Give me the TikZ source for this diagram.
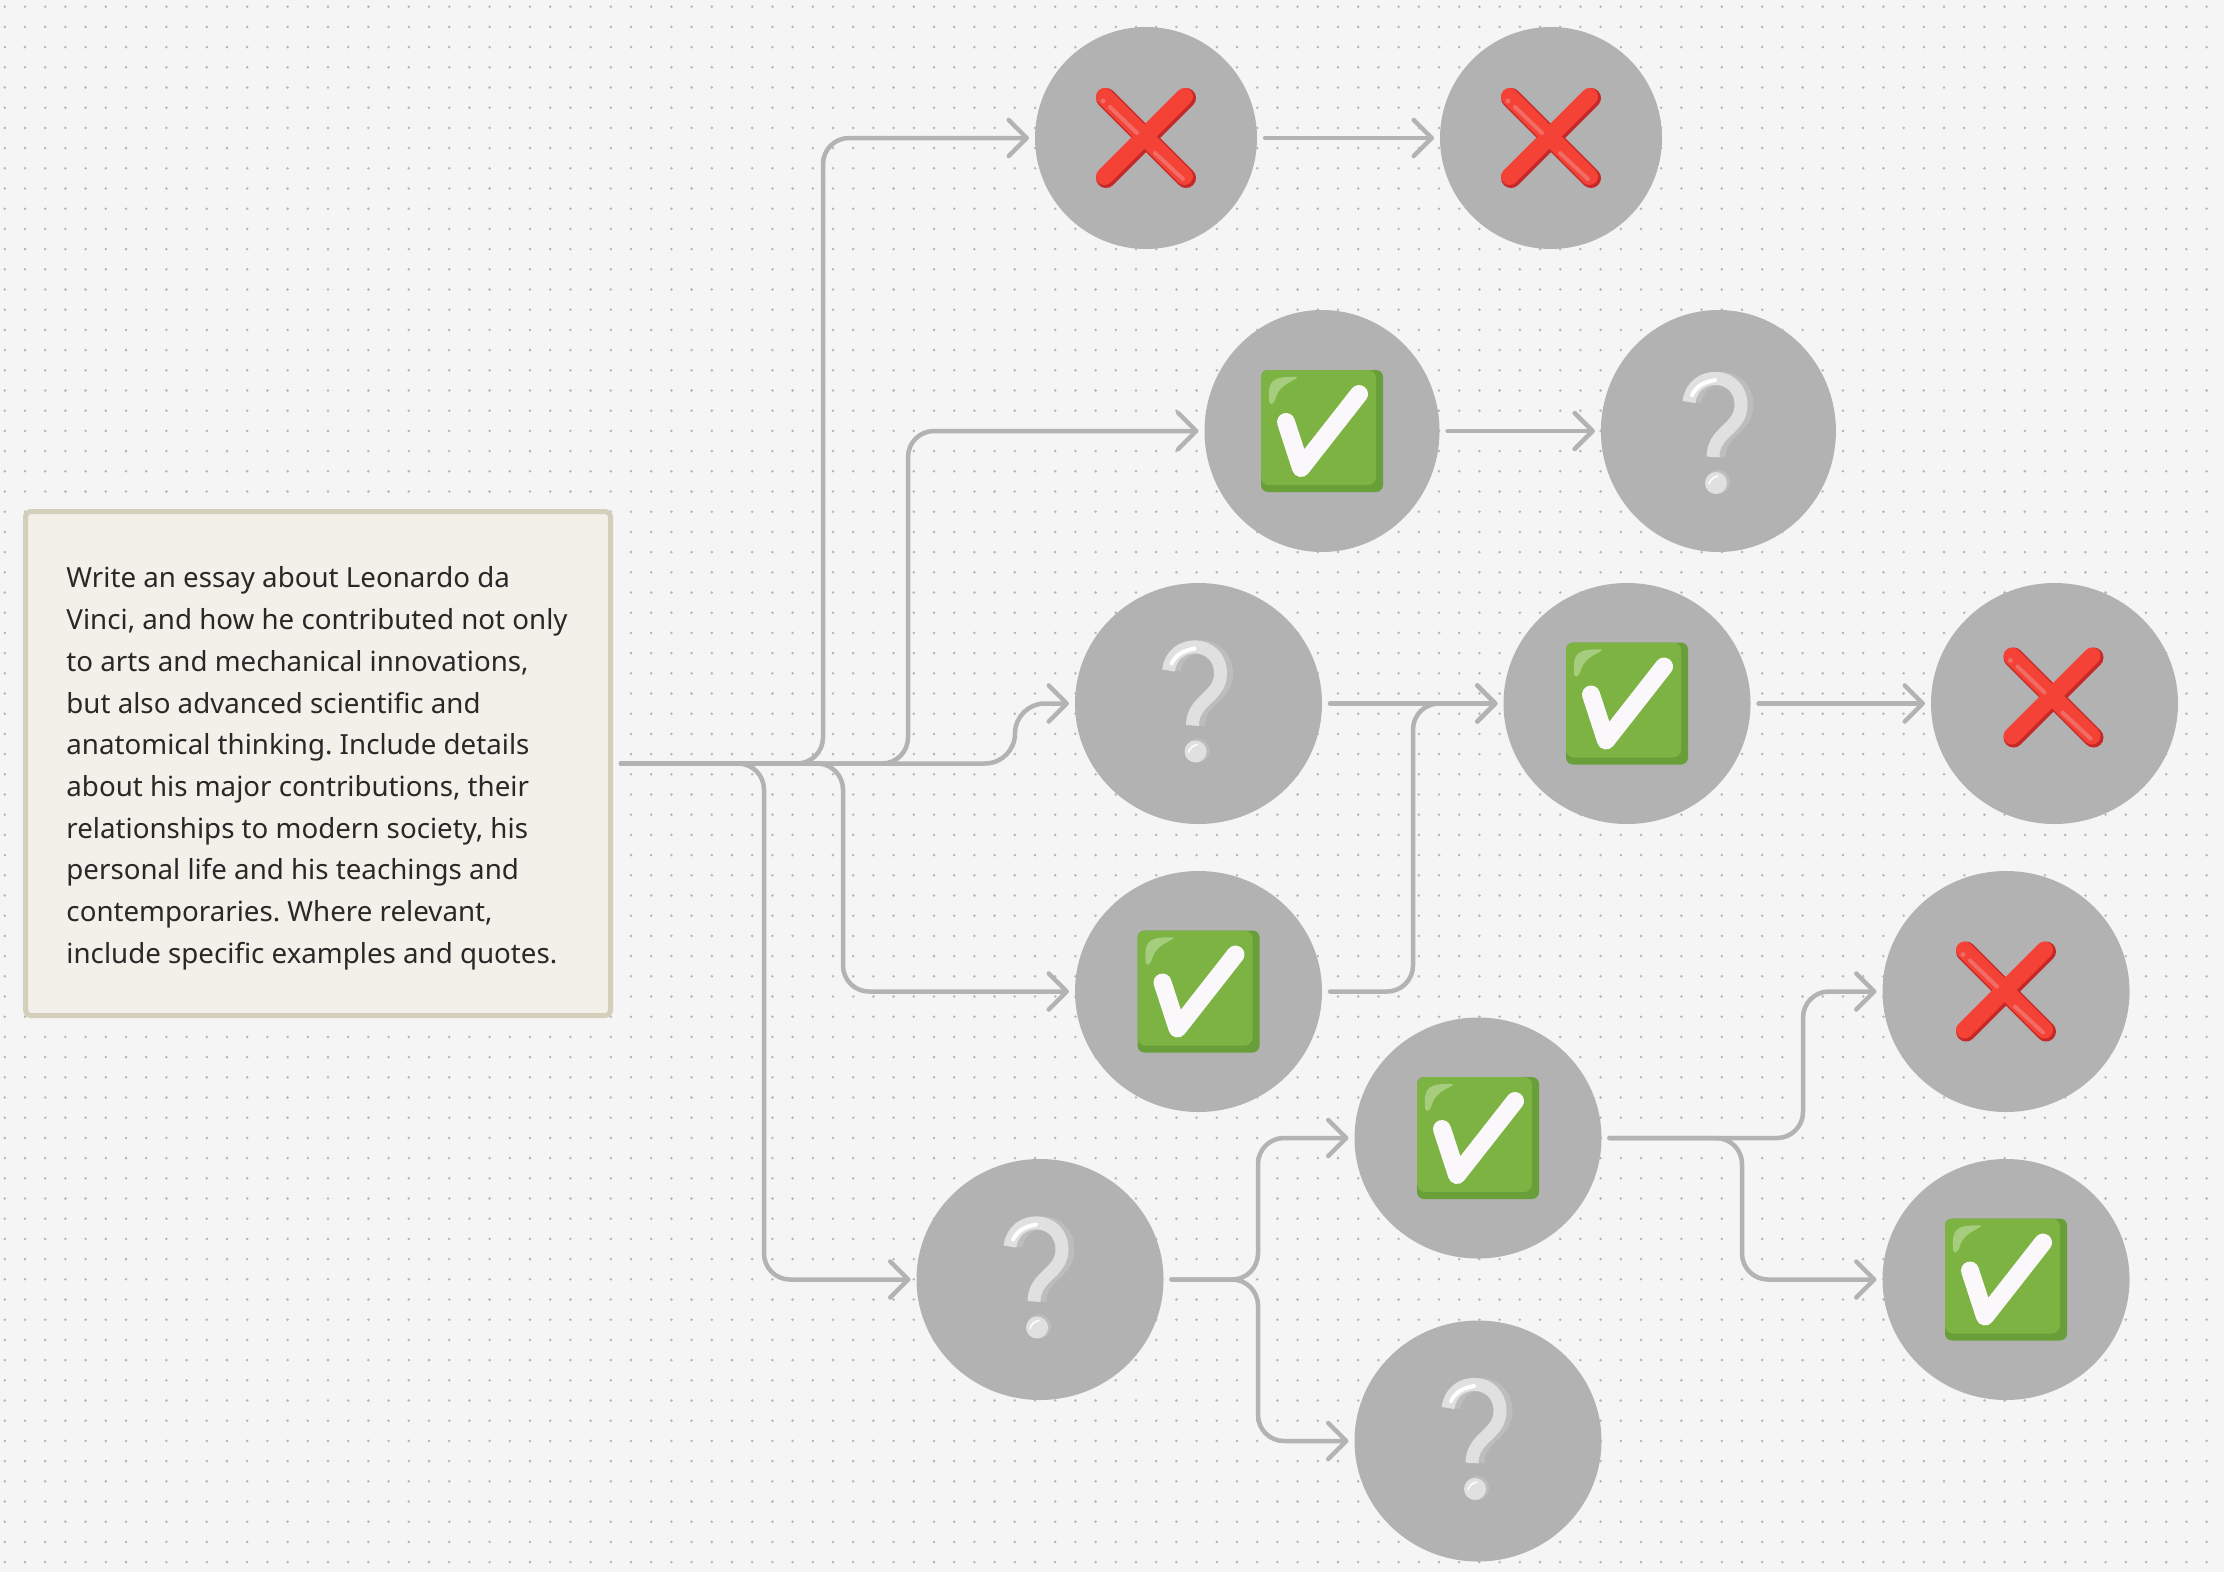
\documentclass[tikz,border=0pt]{standalone}
\usepackage{fontspec}
\setmainfont{Noto Sans}
\usepackage{xcolor}
\usetikzlibrary{arrows.meta,shapes.geometric}
\definecolor{pagebg}{RGB}{245,245,245}
\definecolor{griddot}{RGB}{182,182,182}
\definecolor{stepgray}{RGB}{178,178,178}
\definecolor{linkgray}{RGB}{179,179,179}
\definecolor{promptfill}{RGB}{242,240,232}
\definecolor{promptedge}{RGB}{211,207,186}
\definecolor{promptink}{RGB}{40,40,40}
\definecolor{crossred}{RGB}{244,67,54}
\definecolor{crossdark}{RGB}{198,40,40}
\definecolor{crosslight}{RGB}{240,108,100}
\definecolor{boxgreen}{RGB}{124,179,66}
\definecolor{boxdark}{RGB}{104,159,56}
\definecolor{boxlight}{RGB}{165,205,125}
\definecolor{tickwhite}{RGB}{250,248,250}
\definecolor{askpale}{RGB}{224,224,224}
\definecolor{askshade}{RGB}{189,189,189}
\tikzset{
  dotrow/.style={griddot, line width=2.8pt, line cap=round, dash pattern=on 0pt off 20.2pt},
  stepcircle/.style={ellipse, fill=stepgray, inner sep=0pt, outer sep=6pt, minimum width=247pt, minimum height=241pt},
  prompt/.style={rectangle, rounded corners=5pt, draw=promptedge, fill=promptfill, line width=5pt,
    minimum width=585pt, minimum height=504pt, inner sep=0pt, outer sep=8.5pt,
    text=promptink, font=\fontsize{27.7}{41.7}\selectfont},
  link/.style={line width=4.5pt, color=linkgray, line cap=round, rounded corners=26pt, shorten <=2pt,
    -{Straight Barb[length=18pt,width=36pt,round]}},
  crossicon/.pic={
    \draw[crossdark, line width=20pt, line cap=round] (-40,-40) -- (40,40) (40,-40) -- (-40,40);
    \draw[crossred, line width=17pt, line cap=round] (-41.5,-41.5) -- (38.5,38.5) (38.5,-41.5) -- (-41.5,38.5);
    \draw[crosslight, line width=4pt, line cap=round] (-36,-31) -- (-9,-5) (9,15) -- (37,41);
    \fill[crosslight] (-43,-37) circle (2.5pt);
  },
  checkicon/.pic={
    \fill[boxdark, rounded corners=7pt] (-61,-61) rectangle (61,61);
    \fill[boxgreen, rounded corners=8pt] (-61,-61) rectangle (54,54);
    \fill[boxlight] (-25,-54) .. controls (-24,-51) and (-42,-48) .. (-46,-34) .. controls (-48,-26) and (-53,-24) .. (-53,-32) .. controls (-54,-50) and (-50,-55) .. (-25,-54) -- cycle;
    \draw[tickwhite, line width=18pt, line cap=round, line join=round] (-36,-9) -- (-21,37) -- (37,-37);
  },
  askicon/.pic={
    \draw[askshade, line width=13pt] (-22,-29) .. controls (-18,-62) and (30,-60) .. (30,-26) .. controls (30,-2) and (2,0) .. (2,26);
    \fill[askshade] (1,51) circle (12pt);
    \draw[askpale, line width=13pt] (-28,-29) .. controls (-24,-62) and (24,-60) .. (24,-26) .. controls (24,-2) and (-4,0) .. (-4,26);
    \fill[askpale] (-1,52) circle (11pt);
    \draw[white, line width=4pt, line cap=round] (-25,-36) .. controls (-20,-46) and (-12,-49) .. (-2,-51);
    \draw[white, line width=1.5pt, line cap=round] (-8,53) .. controls (-7,49) and (-4,46) .. (1,45);
  },
}

\begin{document}
\begin{tikzpicture}[x=1pt, y=-1pt]
% Page and dot grid
\useasboundingbox (0,0) rectangle (2224,1572);
\fill[pagebg] (0,0) rectangle (2224,1572);
\foreach \row [evaluate=\row as \doty using 6.7+20.2*\row] in {0,...,77} {
  \draw[dotrow] (4.8,\doty) -- (2224,\doty);
}

% Prompt
\node (prompt) [prompt] at (318,763.5) {\frenchspacing\hspace*{-2pt}\raisebox{-10pt}[0pt][0pt]{%
\begin{tabular}{@{}l@{}}
Write an essay about Leonardo da\\
Vinci, and how he contributed not only\\
to arts and mechanical innovations,\\
but also advanced scientific and\\
anatomical thinking. Include details\\
about his major contributions, their\\
relationships to modern society, his\\
personal life and his teachings and\\
contemporaries. Where relevant,\\
include specific examples and quotes.
\end{tabular}}
};

% Top row
\node (fail1) [stepcircle, minimum width=222pt, minimum height=222pt] at (1146,138) {};
\node (fail2) [stepcircle, minimum width=222pt, minimum height=222pt] at (1551,138) {};

% Second row
\node (pass1) [stepcircle, minimum width=235pt, minimum height=242pt] at (1322,431) {};
\node (ask1) [stepcircle, minimum width=235pt, minimum height=242pt] at (1718.4,431) {};

% Third row
\node (ask2) [stepcircle] at (1198.5,703.5) {};
\node (pass2) [stepcircle] at (1627,703.5) {};
\node (fail3) [stepcircle] at (2054.5,703.5) {};

% Lower rows
\node (pass3) [stepcircle] at (1198.5,991.5) {};
\node (fail4) [stepcircle] at (2006,991.5) {};
\node (pass4) [stepcircle] at (1478,1138) {};
\node (ask3) [stepcircle] at (1040,1279.5) {};
\node (pass5) [stepcircle] at (2006,1279.5) {};
\node (ask4) [stepcircle] at (1478,1441) {};

% Icons
\foreach \spot in {fail1,fail2,fail4} \pic at (\spot) {crossicon};
\pic at ([shift={(-1,-6)}]fail3) {crossicon};
\foreach \spot in {pass1,pass2,pass3,pass4,pass5} \pic at (\spot) {checkicon};
\pic at ([shift={(-1.4,0)}]ask1) {askicon};
\foreach \spot in {ask2,ask3,ask4} \pic at ([shift={(-2,-4)}]\spot) {askicon};

% Links out of the prompt
\draw[link] (prompt.east) -| (823,138) -- (fail1.west);
\draw[link] (prompt.east) -| (908,431) -- (pass1.west);
\draw[link, rounded corners=30pt] (prompt.east) -| (1015,703.5) -- (ask2.west);
\draw[link] (prompt.east) -| (843,991.5) -- (pass3.west);
\draw[link] (prompt.east) -| (764,1279.5) -- (ask3.west);

% Links between steps
\draw[link] (fail1.east) -- (fail2.west);
\draw[link] (pass1.east) -- (ask1.west);
\draw[link] (ask2.east) -- (pass2.west);
\draw[link] (pass2.east) -- (fail3.west);
\draw[link] (pass3.east) -| (1413,703.5) -- (pass2.west);
\draw[link] (ask3.east) -| (1258,1138) -- (pass4.west);
\draw[link] (ask3.east) -| (1258,1441) -- (ask4.west);
\draw[link] (pass4.east) -| (1803,991.5) -- (fail4.west);
\draw[link] (pass4.east) -| (1742,1279.5) -- (pass5.west);
\end{tikzpicture}
\end{document}
